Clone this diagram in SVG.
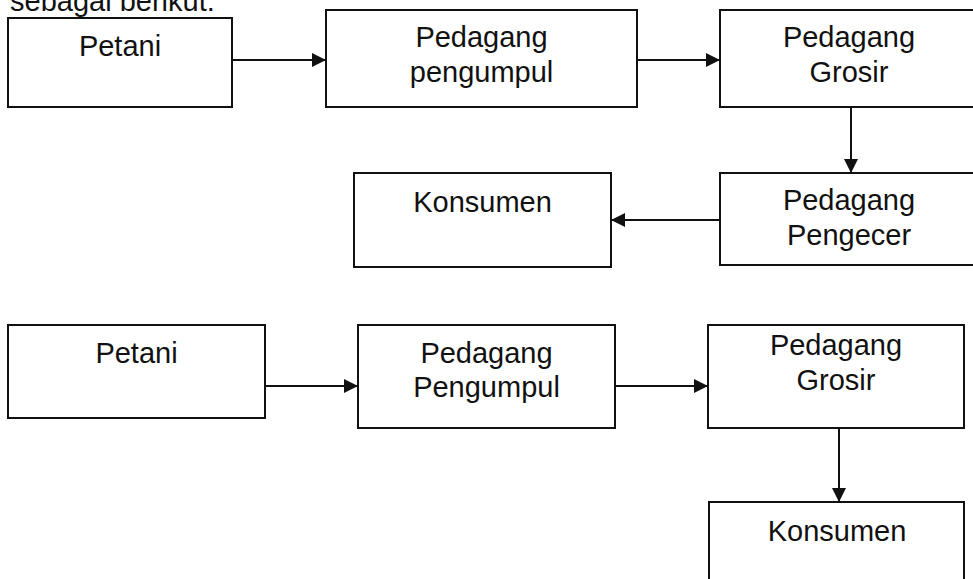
<svg xmlns="http://www.w3.org/2000/svg" width="973" height="579" viewBox="0 0 973 579">
<style>
.box{fill:#fff;stroke:#111;stroke-width:2}
.t{font-family:"Liberation Sans",Arial,sans-serif;font-size:29px;fill:#111;text-anchor:middle}
.c{stroke:#111;stroke-width:2;fill:none;marker-end:url(#ah)}
</style>
<defs>
<marker id="ah" markerUnits="userSpaceOnUse" markerWidth="14" markerHeight="14" viewBox="0 0 14 14" refX="14" refY="7" orient="auto">
<path d="M0,0 L14,7 L0,14 Z" fill="#111"/>
</marker>
</defs>
<rect width="973" height="579" fill="#fff"/>
<text x="10" y="11" style="font-family:'Liberation Sans',Arial,sans-serif;font-size:29px;fill:#111">sebagai berikut:</text>
<g id="connectors">
<line class="c" x1="232" y1="60" x2="326" y2="60"/>
<line class="c" x1="637" y1="60" x2="720" y2="60"/>
<line class="c" x1="851" y1="107" x2="851" y2="173"/>
<line class="c" x1="720" y1="220" x2="611" y2="220"/>
<line class="c" x1="265" y1="386" x2="358" y2="386"/>
<line class="c" x1="615" y1="386" x2="708" y2="386"/>
<line class="c" x1="839" y1="428" x2="839" y2="502"/>
</g>
<g id="petani1"><rect class="box" x="8" y="18" width="224" height="89"/><text class="t" x="120" y="56">Petani</text></g>
<g id="pengumpul1"><rect class="box" x="326" y="10" width="311" height="97"/><text class="t" x="481.5" y="47">Pedagang</text><text class="t" x="481.5" y="82">pengumpul</text></g>
<g id="grosir1"><rect class="box" x="720" y="10" width="258" height="97"/><text class="t" x="849" y="47">Pedagang</text><text class="t" x="849" y="82">Grosir</text></g>
<g id="pengecer1"><rect class="box" x="720" y="173" width="258" height="92"/><text class="t" x="849" y="210">Pedagang</text><text class="t" x="849" y="245">Pengecer</text></g>
<g id="konsumen1"><rect class="box" x="354" y="173" width="257" height="94"/><text class="t" x="482.5" y="212">Konsumen</text></g>
<g id="petani2"><rect class="box" x="8" y="325" width="257" height="93"/><text class="t" x="136.5" y="363">Petani</text></g>
<g id="pengumpul2"><rect class="box" x="358" y="325" width="257" height="103"/><text class="t" x="486.5" y="363">Pedagang</text><text class="t" x="486.5" y="397">Pengumpul</text></g>
<g id="grosir2"><rect class="box" x="708" y="325" width="256" height="103"/><text class="t" x="836" y="355">Pedagang</text><text class="t" x="836" y="390">Grosir</text></g>
<g id="konsumen2"><rect class="box" x="709" y="502" width="255" height="110"/><text class="t" x="837" y="541">Konsumen</text></g>
</svg>
